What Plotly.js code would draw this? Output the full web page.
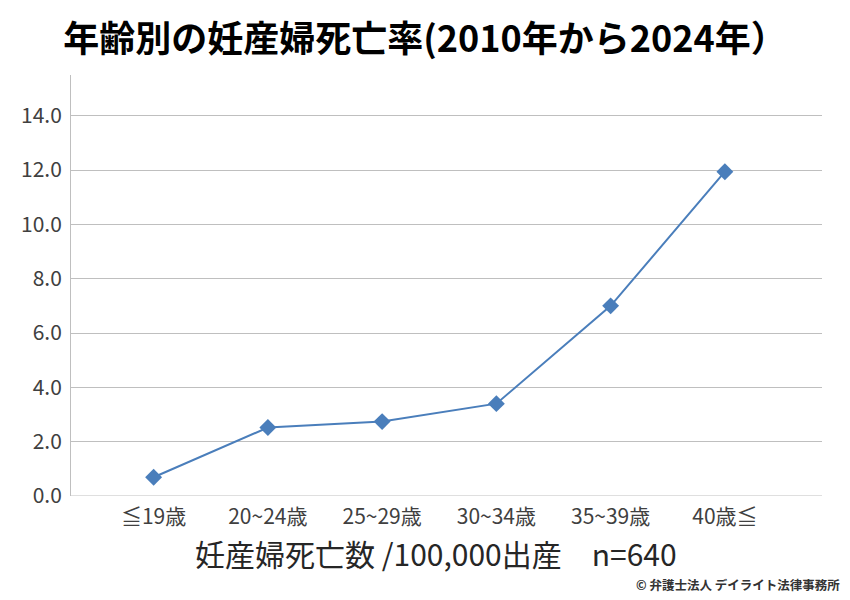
<!DOCTYPE html>
<html>
<head>
<meta charset="utf-8">
<script src="https://cdn.plot.ly/plotly-3.0.1.min.js"></script>
<style>html,body{margin:0;padding:0;background:#fff;}#chart{width:850px;height:600px;}</style>
</head>
<body>
<div id="chart"></div>
<script>
const categories = ["≦19歳", "20~24歳", "25~29歳", "30~34歳", "35~39歳", "40歳≦"];
const rates = [0.69, 2.52, 2.74, 3.40, 7.00, 11.94];
const yTicks = [0, 2, 4, 6, 8, 10, 12, 14];
const yTickLabels = ["0.0", "2.0", "4.0", "6.0", "8.0", "10.0", "12.0", "14.0"];

const font = "'Noto Sans CJK JP', 'Noto Sans', sans-serif";

const trace = {
  x: categories.map((c, i) => i),
  y: rates,
  type: "scatter",
  mode: "lines+markers",
  line: {color: "#4a7ebb", width: 2},
  marker: {symbol: "diamond", size: 13, color: "#4a7ebb"},
  hoverinfo: "skip"
};

const layout = {
  width: 850, height: 600,
  margin: {l: 71, r: 28, t: 75, b: 104},
  paper_bgcolor: "#fff", plot_bgcolor: "#fff",
  showlegend: false,
  title: {
    text: "<b>年齢別の妊産婦死亡率(2010年から2024年）</b>",
    font: {family: font, size: 36, color: "#000"},
    x: 0.5, xanchor: "center", y: 0.935, yanchor: "middle"
  },
  xaxis: {
    range: [-0.723, 5.85],
    tickmode: "array",
    tickvals: categories.map((c, i) => i),
    ticktext: categories,
    showgrid: false, zeroline: false,
    showline: false,
    ticks: "",
    tickfont: {family: font, size: 21, color: "#404040"},
    ticklabelstandoff: 6,
    fixedrange: true
  },
  yaxis: {
    range: [0, 15.5],
    tickmode: "array",
    tickvals: yTicks,
    ticktext: yTickLabels,
    showgrid: true, gridcolor: "#bfbfbf", gridwidth: 1,
    zeroline: false,
    showline: true, linecolor: "#bfbfbf", linewidth: 1,
    ticks: "",
    tickfont: {family: font, size: 21, color: "#404040"},
    ticklabelstandoff: 4,
    fixedrange: true
  },
  shapes: [{
    type: "line", xref: "paper", yref: "y", x0: 0, x1: 1, y0: 0, y1: 0,
    line: {color: "#bfbfbf", width: 1}
  }],
  annotations: [
    {
      text: "妊産婦死亡数 /100,000出産　n=640",
      xref: "paper", yref: "paper", x: 0.486, y: -0.135,
      xanchor: "center", yanchor: "middle", showarrow: false,
      font: {family: font, size: 30, color: "#262626"}
    },
    {
      text: "<b>© 弁護士法人 デイライト法律事務所</b>",
      xref: "paper", yref: "paper", x: 1.027, y: -0.21,
      xanchor: "right", yanchor: "middle", showarrow: false,
      font: {family: font, size: 12.5, color: "#333"}
    }
  ]
};

Plotly.newPlot("chart", [trace], layout, {displayModeBar: false, staticPlot: true});
</script>
</body>
</html>
